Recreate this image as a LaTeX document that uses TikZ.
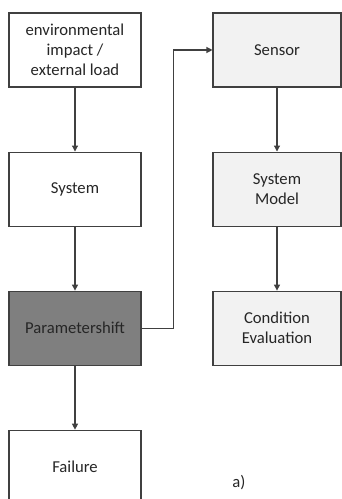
\documentclass[tikz,border=0pt]{standalone}
\usepackage{fontspec}
\setmainfont{Carlito}
\usepackage{xcolor}
\usetikzlibrary{arrows.meta,positioning}

\definecolor{edge}{HTML}{404040}
\definecolor{light}{HTML}{F2F2F2}
\definecolor{dark}{HTML}{7F7F7F}

\begin{document}
\begin{tikzpicture}[x=0.75pt,y=-0.75pt,
  box/.style={draw=edge,line width=0.8pt,fill=white,align=center,inner sep=2pt,
    minimum width=99pt,minimum height=55.5pt,font=\fontsize{12.5}{15}\selectfont,text=black!85},
  obs/.style={box,fill=light,minimum width=96pt},
  hot/.style={box,fill=dark},
  arr/.style={-{Triangle[length=4.5pt,width=4.5pt]},draw=edge,line width=0.8pt}]
\useasboundingbox (0,0) rectangle (342,499);
% left column: what happens to the system
\node[box] (load) at (75,50) {environmental\\impact /\\external load};
\node[box,below=48pt of load] (sys) {System};
\node[hot,below=48pt of sys] (shift) {Parametershift};
\node[box,below=48pt of shift] (fail) {Failure};
% right column: monitoring chain
\node[obs] (sensor) at (277,50) {Sensor};
\node[obs,below=48pt of sensor] (model) {System\\Model};
\node[obs,below=48pt of model] (eval) {Condition\\Evaluation};
\draw[arr] (load) -- (sys);
\draw[arr] (sys) -- (shift);
\draw[arr] (shift) -- (fail);
\draw[arr] (shift.east) -- ++(32,0) |- (sensor.west);
\draw[arr] (sensor) -- (model);
\draw[arr] (model) -- (eval);
\node[font=\fontsize{12.5}{15}\selectfont,text=black!85] (tag) at (239,483) {a)};
\end{tikzpicture}
\end{document}
